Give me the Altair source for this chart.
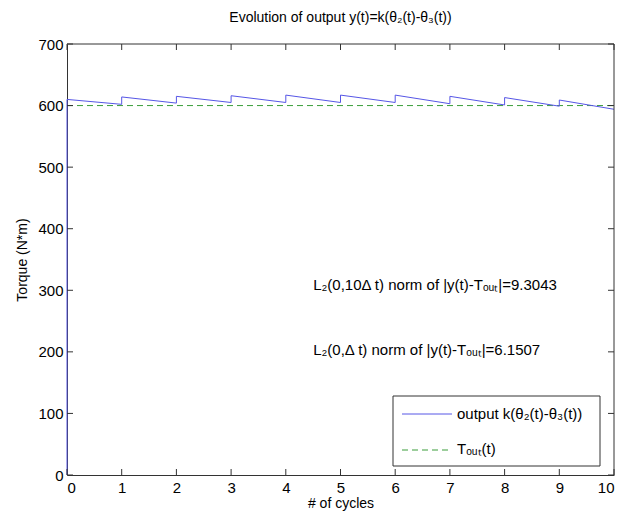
import altair as alt
import pandas as pd

# ---- data ----
cycles = [0, 1, 2, 3, 4, 5, 6, 7, 8, 9]
cycle_start = [610, 614, 615, 616, 617, 617, 617, 615, 613, 609]
cycle_end = [602, 604, 605, 605, 605, 605, 603, 601, 599, 594]
t_out_value = 600
t_range = [0, 10]
x_ticks = [0, 1, 2, 3, 4, 5, 6, 7, 8, 9, 10]
y_ticks = [0, 100, 200, 300, 400, 500, 600, 700]

lab_out = "output k(θ₂(t)-θ₃(t))"
lab_ref = "Tₒᵤₜ(t)"
note1 = "L₂(0,10Δ t) norm of |y(t)-Tₒᵤₜ|=9.3043"
note2 = "L₂(0,Δ t) norm of |y(t)-Tₒᵤₜ|=6.1507"

BLUE = "#5656e6"
GREEN = "#3a9d3a"
BOX = "#333333"

rows = [{"t": 0, "y": 0, "series": lab_out, "i": 0}]
for c, s, e in zip(cycles, cycle_start, cycle_end):
    rows.append({"t": c, "y": s, "series": lab_out, "i": len(rows)})
    rows.append({"t": c + 1, "y": e, "series": lab_out, "i": len(rows)})
df_out = pd.DataFrame(rows)
df_ref = pd.DataFrame({"t": t_range, "y": [t_out_value] * len(t_range)})
one = pd.DataFrame({"k": [0]})

W, H = 547, 431
FONT = "Liberation Sans"
TXT = 15

xs = alt.Scale(domain=[0, 10], nice=False)
ys = alt.Scale(domain=[0, 700], nice=False)

out_line = alt.Chart(df_out).mark_line(strokeWidth=1, color=BLUE).encode(
    x=alt.X("t:Q", scale=xs, axis=alt.Axis(values=x_ticks, title="# of cycles", grid=False,
                                            ticks=False, labelPadding=5, titlePadding=1)),
    y=alt.Y("y:Q", scale=ys, axis=alt.Axis(values=y_ticks, title="Torque (N*m)", grid=False,
                                            ticks=False, labelPadding=4, titlePadding=8)),
    order="i:Q",
)
ref_line = alt.Chart(df_ref).mark_line(strokeWidth=1, color=GREEN, strokeDash=[6, 4]).encode(
    x=alt.X("t:Q", scale=xs), y=alt.Y("y:Q", scale=ys))

xt = pd.DataFrame({"t": x_ticks})
yt = pd.DataFrame({"y": y_ticks})
xtick_bottom = alt.Chart(xt).mark_rule(color=BOX, strokeWidth=1).encode(
    x=alt.X("t:Q", scale=xs), y=alt.value(H), y2=alt.value(H - 6))
xtick_top = alt.Chart(xt).mark_rule(color=BOX, strokeWidth=1).encode(
    x=alt.X("t:Q", scale=xs), y=alt.value(0), y2=alt.value(6))
ytick_left = alt.Chart(yt).mark_rule(color=BOX, strokeWidth=1).encode(
    y=alt.Y("y:Q", scale=ys), x=alt.value(0), x2=alt.value(6))
ytick_right = alt.Chart(yt).mark_rule(color=BOX, strokeWidth=1).encode(
    y=alt.Y("y:Q", scale=ys), x=alt.value(W), x2=alt.value(W - 6))
border_top = alt.Chart(one).mark_rule(color=BOX, strokeWidth=1).encode(
    x=alt.value(0), x2=alt.value(W), y=alt.value(0))
border_right = alt.Chart(one).mark_rule(color=BOX, strokeWidth=1).encode(
    x=alt.value(W), y=alt.value(0), y2=alt.value(H))

notes = pd.DataFrame({"t": [4.5, 4.5], "y": [309, 203], "txt": [note1, note2]})
text = alt.Chart(notes).mark_text(align="left", baseline="middle", fontSize=TXT, font=FONT,
                                  color="black").encode(
    x=alt.X("t:Q", scale=xs), y=alt.Y("y:Q", scale=ys), text="txt:N")

# legend (MATLAB style box)
LX0, LX1, LY0, LY1 = 326, 533, 352, 422
leg_box = alt.Chart(one).mark_rect(fill="white", stroke=BOX, strokeWidth=1).encode(
    x=alt.value(LX0), x2=alt.value(LX1), y=alt.value(LY0), y2=alt.value(LY1))
leg_s1 = alt.Chart(one).mark_rule(color=BLUE, strokeWidth=1).encode(
    x=alt.value(335), x2=alt.value(385), y=alt.value(370))
leg_s2 = alt.Chart(one).mark_rule(color=GREEN, strokeWidth=1, strokeDash=[6, 4]).encode(
    x=alt.value(335), x2=alt.value(385), y=alt.value(406))
leg_t1 = alt.Chart(one).mark_text(align="left", baseline="middle", fontSize=TXT, font=FONT,
                                  color="black", text=lab_out).encode(
    x=alt.value(390), y=alt.value(370))
leg_t2 = alt.Chart(one).mark_text(align="left", baseline="middle", fontSize=TXT, font=FONT,
                                  color="black", text=lab_ref).encode(
    x=alt.value(390), y=alt.value(405))

chart = alt.layer(
    ref_line, out_line, xtick_bottom, xtick_top, ytick_left, ytick_right,
    border_top, border_right, text, leg_box, leg_s1, leg_s2, leg_t1, leg_t2,
).properties(
    width=W, height=H,
    title=alt.TitleParams("Evolution of output y(t)=k(θ₂(t)-θ₃(t))", fontSize=14, font=FONT,
                          fontWeight="normal", color="black", offset=12),
    autosize=alt.AutoSizeParams(type="none"),
    padding={"left": 59, "top": 36, "right": 10, "bottom": 44},
).configure(background="white").configure_view(stroke=None).configure_axis(
    domainColor=BOX, domainWidth=1, labelFont=FONT, labelFontSize=15, labelColor="black",
    titleFont=FONT, titleFontSize=14, titleFontWeight="normal", titleColor="black",
)

chart.save("out.html", embed_options={"renderer": "svg", "actions": False})
